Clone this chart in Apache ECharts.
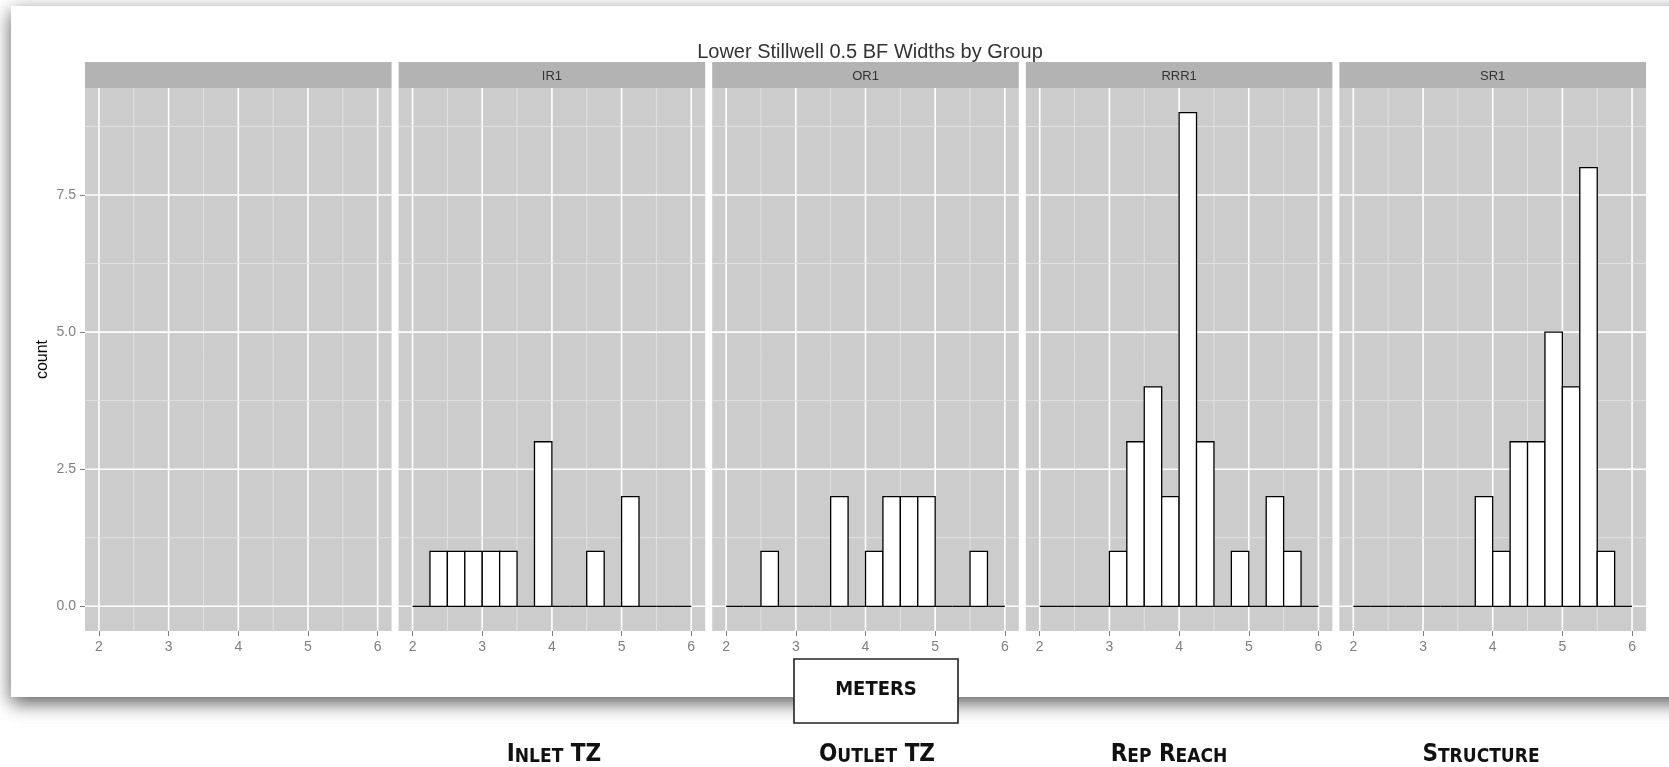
<!DOCTYPE html>
<html>
<head>
<meta charset="utf-8">
<title>Lower Stillwell 0.5 BF Widths by Group</title>
<script src="https://cdn.jsdelivr.net/npm/echarts@6/dist/echarts.min.js"></script>
<style>
html, body { margin: 0; padding: 0; background: #fff; }
#main { width: 1669px; height: 767px; }
</style>
</head>
<body>
<div id="main"></div>
<script>
// 数据：每个面板的直方图计数（组宽 0.25，从 2 到 6）
var panelNames = ['', 'IR1', 'OR1', 'RRR1', 'SR1'];
var binEdges = [2, 2.25, 2.5, 2.75, 3, 3.25, 3.5, 3.75, 4, 4.25, 4.5, 4.75, 5, 5.25, 5.5, 5.75, 6];
var countsNA   = [];
var countsIR1  = [0, 1, 1, 1, 1, 1, 0, 3, 0, 0, 1, 0, 2, 0, 0, 0];
var countsOR1  = [0, 0, 1, 0, 0, 0, 2, 0, 1, 2, 2, 2, 0, 0, 1, 0];
var countsRRR1 = [0, 0, 0, 0, 1, 3, 4, 2, 9, 3, 0, 1, 0, 2, 1, 0];
var countsSR1  = [0, 0, 0, 0, 0, 0, 0, 2, 1, 3, 3, 5, 4, 8, 1, 0];
var panelCounts = [countsNA, countsIR1, countsOR1, countsRRR1, countsSR1];

// 刻度
var xTicks = [2, 3, 4, 5, 6];
var xMinor = [2.5, 3.5, 4.5, 5.5];
var yTicks = [0, 2.5, 5, 7.5];
var yMinor = [1.25, 3.75, 6.25, 8.75];

// 下方的注释文字
var groupLabels = ['Inlet TZ', 'Outlet TZ', 'Rep Reach', 'Structure'];
var groupLabelX = [554, 877, 1169, 1481];

var FONT = "'Liberation Sans', Arial, sans-serif";
var NARROW = "'Liberation Sans Narrow', 'DejaVu Sans Condensed', 'Open Sans', sans-serif";

// 面板布局
var panelLeft0 = 85, panelStep = 313.6, panelWidth = 306.6;
var panelTop = 88, panelHeight = 543;
var stripTop = 62, stripHeight = 26;

function renderGridLine(params, api) {
    var cs = params.coordSys;
    var dir = api.value(0), v = api.value(1), major = api.value(2);
    var shape;
    if (dir === 0) {
        var px = api.coord([v, 0])[0];
        shape = { x1: px, y1: cs.y, x2: px, y2: cs.y + cs.height };
    } else {
        var py = api.coord([2, v])[1];
        shape = { x1: cs.x, y1: py, x2: cs.x + cs.width, y2: py };
    }
    return {
        type: 'line',
        shape: shape,
        style: { stroke: major ? '#ffffff' : '#e3e3e3', lineWidth: major ? 1.6 : 0.9 }
    };
}

function renderBin(params, api) {
    var x0 = api.value(0), x1 = api.value(1), c = api.value(2);
    var p0 = api.coord([x0, 0]);
    var p1 = api.coord([x1, c]);
    if (c === 0) {
        return {
            type: 'line',
            shape: { x1: p0[0], y1: p0[1], x2: p1[0], y2: p0[1] },
            style: { stroke: '#000', lineWidth: 1.3 }
        };
    }
    return {
        type: 'rect',
        shape: { x: p0[0], y: p1[1], width: p1[0] - p0[0], height: p0[1] - p1[1] },
        style: { fill: '#ffffff', stroke: '#000', lineWidth: 1.3 }
    };
}

var gridLineData = []
    .concat(xTicks.map(function (v) { return [0, v, 1]; }))
    .concat(xMinor.map(function (v) { return [0, v, 0]; }))
    .concat(yTicks.map(function (v) { return [1, v, 1]; }))
    .concat(yMinor.map(function (v) { return [1, v, 0]; }));

var grids = [], xAxes = [], yAxes = [], series = [];
var graphics = [
    // 背景卡片和阴影
    {
        type: 'rect', z: -10,
        shape: { x: 11, y: 6, width: 1720, height: 691 },
        style: { fill: '#ffffff', shadowBlur: 18, shadowOffsetY: 6, shadowColor: 'rgba(0,0,0,0.65)' }
    }
];

for (var i = 0; i < panelNames.length; i++) {
    var left = panelLeft0 + i * panelStep;
    grids.push({
        left: left, top: panelTop, width: panelWidth, height: panelHeight,
        show: true, backgroundColor: '#cccccc', borderWidth: 0
    });
    xAxes.push({
        type: 'value', gridIndex: i, min: 1.8, max: 6.2,
        axisLine: { show: false, onZero: false },
        axisTick: { show: true, length: 5, customValues: xTicks, lineStyle: { color: '#7f7f7f', width: 1 } },
        axisLabel: { customValues: xTicks, color: '#7f7f7f', fontSize: 14, margin: 9, fontFamily: FONT },
        splitLine: { show: false }
    });
    yAxes.push({
        type: 'value', gridIndex: i, min: -0.45, max: 9.45,
        axisLine: { show: false, onZero: false },
        axisTick: { show: i === 0, length: 5, customValues: yTicks, lineStyle: { color: '#7f7f7f', width: 1 } },
        axisLabel: {
            show: i === 0, customValues: yTicks, color: '#7f7f7f', fontSize: 14, margin: 9, fontFamily: FONT,
            formatter: function (v) { return v.toFixed(1); }
        },
        splitLine: { show: false },
        name: i === 0 ? 'count' : '',
        nameLocation: 'middle', nameRotate: 90, nameGap: 34,
        nameTextStyle: { color: '#000', fontSize: 16, fontFamily: FONT }
    });
    series.push({
        type: 'custom', xAxisIndex: i, yAxisIndex: i, z: 1, silent: true,
        data: gridLineData, renderItem: renderGridLine
    });
    series.push({
        type: 'custom', name: panelNames[i], xAxisIndex: i, yAxisIndex: i, z: 3,
        encode: { x: [0, 1], y: 2 },
        data: panelCounts[i].map(function (c, k) { return [binEdges[k], binEdges[k + 1], c]; }),
        renderItem: renderBin
    });
    // 分面标题条
    graphics.push({
        type: 'rect',
        shape: { x: left, y: stripTop, width: panelWidth, height: stripHeight },
        style: { fill: '#b3b3b3' }
    });
    graphics.push({
        type: 'text',
        x: left + panelWidth / 2, y: stripTop + stripHeight / 2 + 1,
        style: {
            text: panelNames[i], fill: '#333333', fontSize: 13, fontFamily: FONT,
            align: 'center', verticalAlign: 'middle', textAlign: 'center', textVerticalAlign: 'middle'
        }
    });
}

// METERS 方框
graphics.push({
    type: 'rect', z: 20,
    shape: { x: 794, y: 659, width: 164, height: 64 },
    style: { fill: '#ffffff', stroke: '#222222', lineWidth: 1.6 }
});
graphics.push({
    type: 'text', z: 21, x: 876, y: 690,
    style: {
        text: 'METERS', fill: '#111', fontSize: 20, fontWeight: 'bold', fontFamily: NARROW,
        align: 'center', verticalAlign: 'middle', textAlign: 'center', textVerticalAlign: 'middle'
    }
});

// 小型大写字母
function smallCaps(str) {
    var out = '', cur = '', curTag = '';
    for (var j = 0; j < str.length; j++) {
        var ch = str[j];
        var tag = (ch === ch.toUpperCase()) ? 'b' : 's';
        if (tag !== curTag && cur) { out += '{' + curTag + '|' + cur + '}'; cur = ''; }
        curTag = tag;
        cur += ch.toUpperCase();
    }
    if (cur) out += '{' + curTag + '|' + cur + '}';
    return out;
}

groupLabels.forEach(function (lab, j) {
    graphics.push({
        type: 'text', z: 21, x: groupLabelX[j], y: 752,
        style: {
            text: smallCaps(lab), fill: '#111',
            align: 'center', verticalAlign: 'middle', textAlign: 'center', textVerticalAlign: 'middle',
            rich: {
                b: { fontSize: 24, lineHeight: 29, fontWeight: 'bold', fontFamily: NARROW, fill: '#111', verticalAlign: 'bottom' },
                s: { fontSize: 19, lineHeight: 23, fontWeight: 'bold', fontFamily: NARROW, fill: '#111', verticalAlign: 'bottom' }
            }
        }
    });
});

var myChart = echarts.init(document.getElementById('main'));

var option = {
    animation: false,
    title: {
        text: 'Lower Stillwell 0.5 BF Widths by Group',
        left: 865, top: 37, textAlign: 'center',
        textStyle: { fontSize: 20, fontWeight: 'normal', color: '#333', fontFamily: FONT }
    },
    grid: grids,
    xAxis: xAxes,
    yAxis: yAxes,
    series: series,
    graphic: graphics
};

myChart.setOption(option);
</script>
</body>
</html>
